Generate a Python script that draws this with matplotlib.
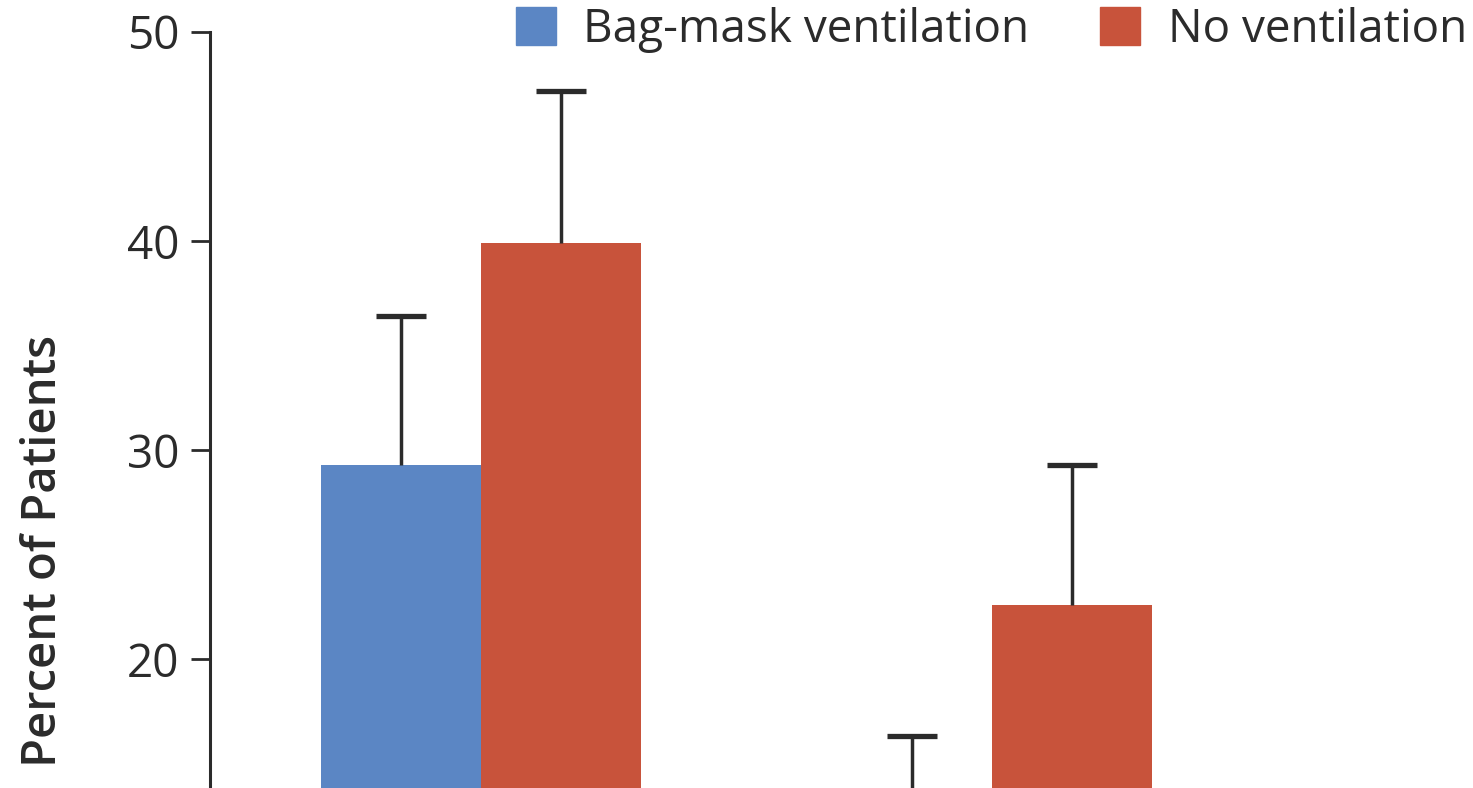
import matplotlib.pyplot as plt
from matplotlib.patches import Patch
import numpy as np

# bar heights and upper error bar tops, percent of patients
groups = ['Group 1', 'Group 2']
bag_mask = [29.3, 10.0]
bag_mask_upper = [36.4, 16.3]
no_vent = [39.9, 22.6]
no_vent_upper = [47.2, 29.3]
series_names = ['Bag-mask ventilation', 'No ventilation']
yticks = [20, 30, 40, 50]

BLUE = '#5b86c4'
RED = '#c8533b'
INK = '#2b2b2b'

plt.rcParams['font.family'] = ['Open Sans', 'DejaVu Sans']

fig = plt.figure(figsize=(14.73, 7.88), dpi=100)
ax = fig.add_axes([210 / 1473, 0.0, 1 - 210 / 1473, 1 - 32 / 788])

x = np.arange(len(groups))
w = 0.313
bag_err = np.array(bag_mask_upper) - np.array(bag_mask)
no_err = np.array(no_vent_upper) - np.array(no_vent)

err_kw = dict(ecolor=INK, elinewidth=2.5, capsize=18, capthick=3.8)
bars = [
    ax.bar(x - w / 2, bag_mask, w, color=BLUE, zorder=2,
           yerr=[np.zeros(len(x)), bag_err], error_kw=err_kw),
    ax.bar(x + w / 2, no_vent, w, color=RED, zorder=2,
           yerr=[np.zeros(len(x)), no_err], error_kw=err_kw),
]
# only the upper half of each error bar is shown, so drop the lower caps
for b in bars:
    caps = b.errorbar.lines[1]
    caps[0].set_visible(False)

ax.set_xlim(-0.530, 1.941)
ax.set_ylim(13.83, 50)
ax.set_yticks(yticks)
ax.set_yticklabels([str(t) for t in yticks], fontsize=33, color=INK)
ax.tick_params(axis='y', length=14, width=2.0, pad=8, color=INK)
ax.set_xticks([])

for side in ['top', 'right', 'bottom']:
    ax.spines[side].set_visible(False)
ax.spines['left'].set_linewidth(2.2)
ax.spines['left'].set_color(INK)

fig.text(44 / 1473, 1 - 551 / 788, 'Percent of Patients', rotation=90,
         fontsize=34, fontweight='semibold', color=INK,
         ha='center', va='center')

handles = [Patch(color=BLUE), Patch(color=RED)]
ax.legend(handles, series_names, loc='upper left', ncol=2, frameon=False,
          bbox_to_anchor=(509 / 1473, 1.0), bbox_transform=fig.transFigure,
          fontsize=33, handlelength=0.87, handleheight=0.87,
          handletextpad=0.6, columnspacing=1.55, borderaxespad=0.0,
          borderpad=0.15, labelcolor=INK)

fig.savefig('out.png', dpi=100)
